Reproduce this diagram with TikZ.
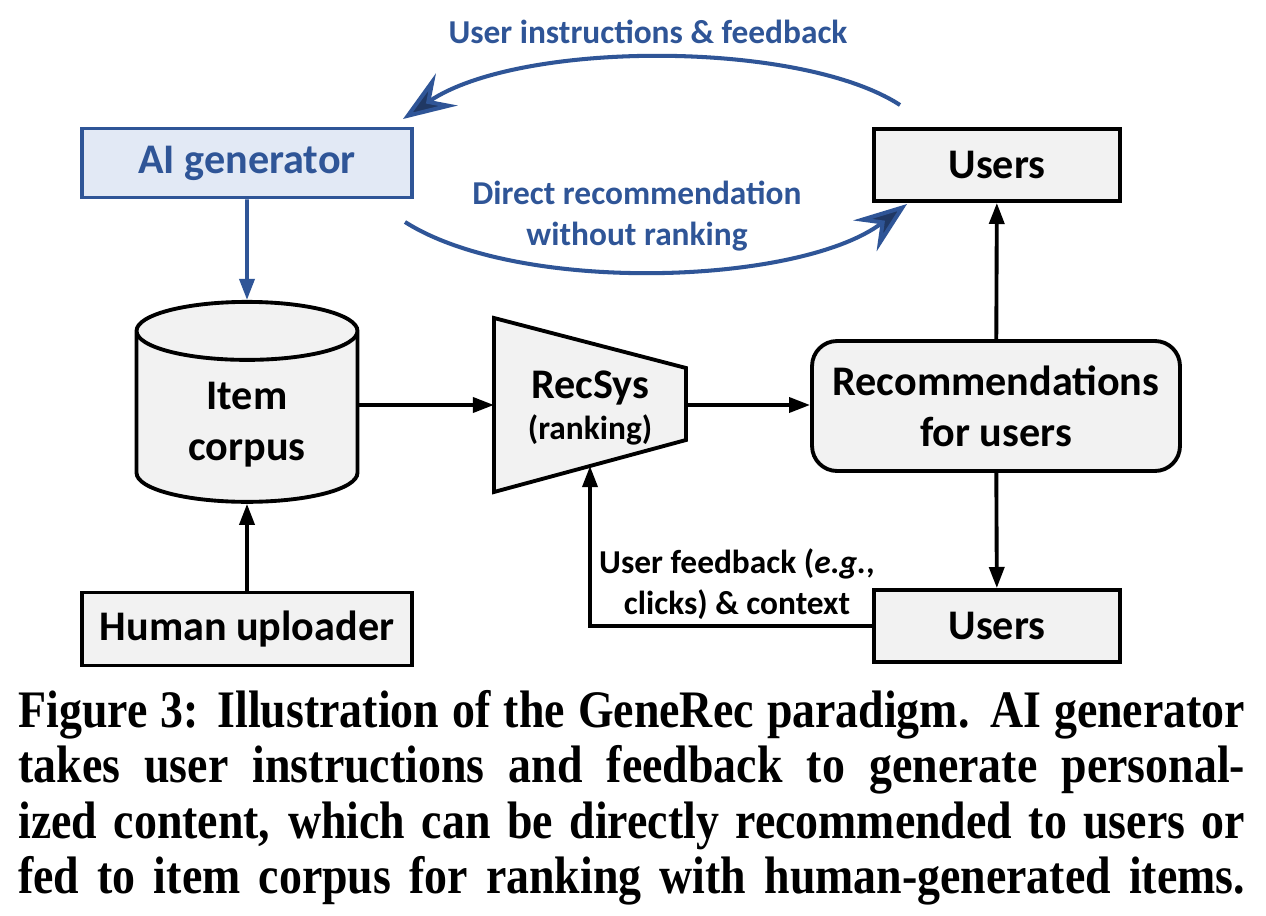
\documentclass[tikz,border=0pt]{standalone}
\usepackage{fontspec}
\setmainfont{Carlito}
\newfontfamily\capfont[FakeStretch=0.87]{Liberation Serif}
\usetikzlibrary{arrows.meta}
\usetikzlibrary{calc}
\usetikzlibrary{positioning}
\usetikzlibrary{shapes.geometric}
\definecolor{aiblue}{RGB}{47, 85, 151}
\definecolor{aifill}{RGB}{226, 233, 245}
\definecolor{tipblue}{RGB}{32, 56, 100}
\definecolor{boxgray}{RGB}{242, 242, 242}
\tikzset{
  box/.style={draw=black, fill=boxgray, line width=2.2pt, align=center,
    font=\bfseries\fontsize{24}{29}\selectfont},
  aibox/.style={box, draw=aiblue, fill=aifill, text=aiblue},
  arrow/.style={-{Triangle[length=12pt,width=8.5pt]}, line width=2.2pt},
  bluearrow/.style={arrow, draw=aiblue, fill=aiblue},
  loopline/.style={-{Stealth[length=30pt,width=22pt,inset=11pt,fill=tipblue]},
    draw=aiblue, line width=2.3pt},
  lbl/.style={font=\bfseries\fontsize{19}{23}\selectfont, align=center},
  captionline/.style={anchor=base west, inner sep=0pt,
    font=\capfont\bfseries\fontsize{30}{36}\selectfont}
}

\begin{document}
\begin{tikzpicture}[x=0.02cm, y=-0.02cm]
  \useasboundingbox[fill=white] (0,0) rectangle (1266,915);

  % boxes
  \node[aibox, minimum width=6.6cm, minimum height=1.38cm] (aigen) at (247,163) {AI generator};
  \node[box, minimum width=4.92cm, minimum height=1.44cm] (userstop) at (997,165) {Users};
  \node[box, cylinder, shape border rotate=90, aspect=0.45,
    minimum width=4.42cm, minimum height=4.0cm] (corpus) at (247,422) {\\[-10pt]Item\\corpus};
  \node[box, minimum width=6.6cm, minimum height=1.46cm] (human) at (247,629) {Human uploader};
  \node[box, rounded corners=0.5cm, minimum width=7.36cm, minimum height=2.6cm] (recs) at (996,406)
    {Recommendations\\for users};
  \node[box, minimum width=4.92cm, minimum height=1.44cm] (usersbot) at (997,626) {Users};

  % recsys funnel
  \draw[box] (494,318) -- (686,368) -- (686,440) -- (494,492) -- cycle;
  \node[align=center, font=\bfseries] (recsys) at (590,408)
    {{\fontsize{24}{29}\selectfont RecSys}\\[4pt]{\fontsize{19}{23}\selectfont (ranking)}};
  \coordinate (recin) at (494,405);
  \coordinate (recout) at (686,405);
  \coordinate (recbot) at (590,466);

  % arrows
  \draw[bluearrow] (aigen) -- (corpus);
  \draw[arrow] (corpus.east |- recin) -- (recin);
  \draw[arrow] (recout) -- (recs.west |- recout);
  \draw[arrow] (recs) -- (userstop);
  \draw[arrow] (recs) -- (usersbot);
  \draw[arrow] (human) -- (corpus);
  \draw[arrow] (usersbot.west) -| (recbot);
  \node[lbl] (fblabel) at (737,584) {User feedback (\textit{e.g.},\\clicks) \& context};

  % generator loop
  \coordinate (fbstart) at (900,105);
  \coordinate (fbend) at (403,119);
  \coordinate (directstart) at (405,222);
  \coordinate (directend) at (907,204);
  \draw[loopline] (fbstart) .. controls (800,40) and (520,40) .. (fbend);
  \draw[loopline] (directstart) .. controls (520,295) and (800,285) .. (directend);
  \node[lbl, text=aiblue] (instr) at (648,32) {User instructions \& feedback};
  \node[lbl, text=aiblue] (direct) at (637,216) {Direct recommendation\\without ranking};

  % caption
  \node[captionline] (cap1) at (18,727) {\makebox[24.54cm][s]{Figure 3: Illustration of the GeneRec paradigm. AI generator}};
  \node[captionline] (cap2) at (18,782) {\makebox[24.54cm][s]{takes user instructions and feedback to generate personal-}};
  \node[captionline] (cap3) at (18,838) {\makebox[24.54cm][s]{ized content, which can be directly recommended to users or}};
  \node[captionline] (cap4) at (18,893) {\makebox[24.54cm][s]{fed to item corpus for ranking with human-generated items.}};
\end{tikzpicture}
\end{document}
